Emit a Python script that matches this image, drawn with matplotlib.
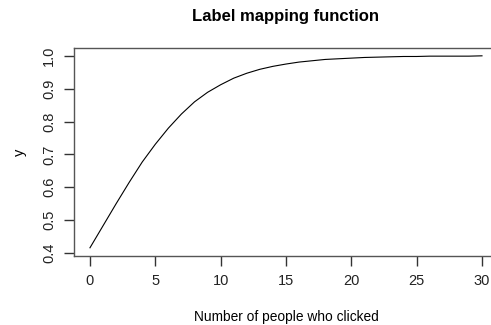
import matplotlib
matplotlib.use("Agg")
import matplotlib.pyplot as plt

# Data (y at each integer x)
clicks = list(range(0, 31))
y_values = [0.416, 0.483, 0.550, 0.615, 0.677, 0.731, 0.780, 0.823, 0.860, 0.889,
            0.912, 0.932, 0.947, 0.959, 0.968, 0.975, 0.981, 0.985, 0.989, 0.991,
            0.993, 0.995, 0.996, 0.997, 0.998, 0.998, 0.999, 0.999, 0.999, 0.999,
            1.000]
x_ticks = [0, 5, 10, 15, 20, 25, 30]
y_ticks = [0.4, 0.5, 0.6, 0.7, 0.8, 0.9, 1.0]

plt.rcParams["font.family"] = ["Liberation Sans", "DejaVu Sans"]

fig = plt.figure(figsize=(4.91, 3.25), dpi=100)
# Plot box runs past the right edge, like the reference
ax = fig.add_axes([0.1513, 0.2129, 0.8623, 0.639])

ax.plot(clicks, y_values, color="black", linewidth=0.8)

# R-style 4% padding
ax.set_xlim(-1.2, 31.2)
ax.set_ylim(0.3916, 1.0234)

ax.set_xticks(x_ticks)
ax.set_xticklabels([str(t) for t in x_ticks])
ax.set_yticks(y_ticks)
ax.set_yticklabels([f"{t:.1f}" for t in y_ticks], rotation=90, va="center")

for side in ax.spines:
    ax.spines[side].set_color("#555555")
    ax.spines[side].set_linewidth(1.0)
ax.tick_params(axis="both", direction="out", length=7, width=1.0,
               color="#333333", labelsize=10.5, labelcolor="#222222", pad=6)

ax.set_xlabel("Number of people who clicked", fontsize=9.9, labelpad=16)
ax.set_ylabel("y", fontsize=10.5, labelpad=11)
ax.set_title("Label mapping function", fontsize=12, fontweight="bold", pad=19.5)

fig.savefig("out.png", dpi=100)
